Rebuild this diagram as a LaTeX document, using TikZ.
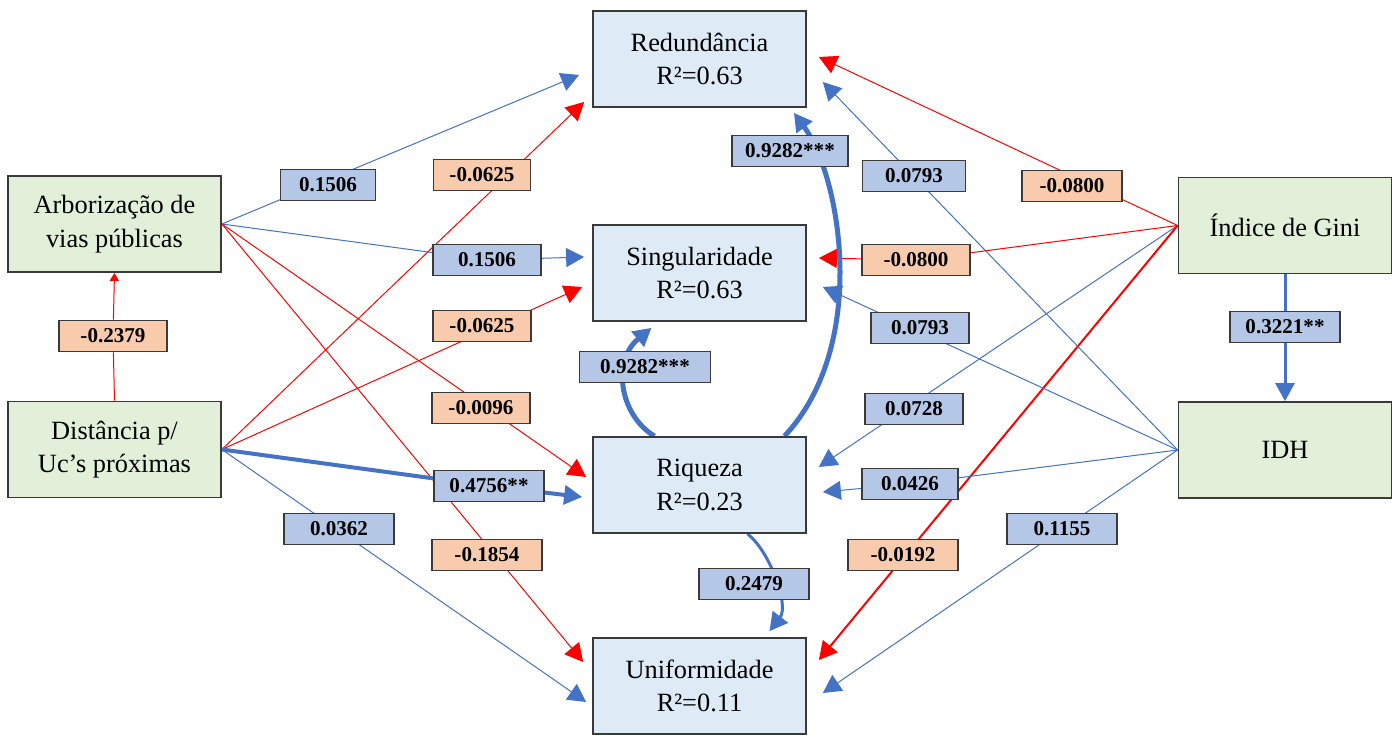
\documentclass[tikz,border=0pt]{standalone}
\usepackage{fontspec}
\setmainfont{Liberation Serif}
\usepackage{tikz}
\usetikzlibrary{arrows.meta,calc}
\definecolor{depfill}{HTML}{DEEBF7}
\definecolor{indepfill}{HTML}{E2F0D9}
\definecolor{posfill}{HTML}{B4C7E7}
\definecolor{negfill}{HTML}{F8CBAD}
\definecolor{lineblue}{HTML}{4472C4}
\definecolor{linered}{HTML}{FF0000}
\definecolor{boxline}{HTML}{3A3A3A}
\pgfdeclarelayer{bg}
\pgfsetlayers{bg,main}

\begin{document}
\begin{tikzpicture}[x=0.2mm,y=0.2mm,
  box/.style={draw=boxline,line width=0.35mm,minimum width=42.6mm,minimum height=19.2mm,
    align=center,font=\fontsize{15}{19}\selectfont},
  dep/.style={box,fill=depfill},
  indep/.style={box,fill=indepfill},
  coef/.style={draw=boxline,line width=0.35mm,minimum width=20mm,minimum height=6.2mm,
    inner sep=1pt,font=\fontsize{12}{14}\selectfont\bfseries},
  poscoef/.style={coef,fill=posfill},
  negcoef/.style={coef,fill=negfill},
  bluearr/.style={draw=lineblue,line width=0.2mm,-{Triangle[length=3.6mm,width=3.8mm]}},
  redarr/.style={draw=linered,line width=0.2mm,-{Triangle[length=3.6mm,width=3.8mm]}}
]
\useasboundingbox (0,0) rectangle (1400,736);
\node[dep] (red) at (699.5,677) {Redundância\\R²=0.63};
\node[dep] (sing) at (699.5,463) {Singularidade\\R²=0.63};
\node[dep] (riq) at (699.5,251) {Riqueza\\R²=0.23};
\node[dep] (unif) at (699.5,50) {Uniformidade\\R²=0.11};
\node[indep] (arb) at (114.5,512) {Arborização de\\vias públicas};
\node[indep] (dist) at (114.5,286.5) {Distância p/\\Uc’s próximas};
\node[indep] (gini) at (1285,510.5) {Índice de Gini};
\node[indep] (idh) at (1285,286) {IDH};

\node[poscoef,minimum width=19mm] (lA1) at (328,551) {0.1506};
\node[negcoef,minimum width=19.4mm] (lD1) at (482,561) {-0.0625};
\node[poscoef,minimum width=21.6mm] (lA2) at (487,476) {0.1506};
\node[negcoef,minimum width=19.6mm] (lD2) at (482,410) {-0.0625};
\node[negcoef,minimum width=21.6mm] (lDA) at (113,400) {-0.2379};
\node[negcoef,minimum width=19.6mm] (lA3) at (481,328) {-0.0096};
\node[poscoef,minimum width=22mm] (lD3) at (489,250) {0.4756**};
\node[negcoef,minimum width=22mm] (lA4) at (487,181) {-0.1854};
\node[poscoef,minimum width=22mm] (lD4) at (339,207) {0.0362};
\node[poscoef,minimum width=26.2mm] (lRS) at (645,369) {0.9282***};
\node[poscoef,minimum width=22mm] (lRU) at (754,152) {0.2479};
\node[poscoef,minimum width=23.2mm] (lRR) at (790,585) {0.9282***};
\node[poscoef,minimum width=20.6mm] (lI1) at (914,560) {0.0793};
\node[negcoef,minimum width=20mm] (lG1) at (1072,550) {-0.0800};
\node[negcoef,minimum width=21.6mm] (lG2) at (916,476) {-0.0800};
\node[poscoef,minimum width=19.6mm] (lI2) at (920,408) {0.0793};
\node[poscoef,minimum width=19.6mm] (lG3) at (914,327) {0.0728};
\node[poscoef,minimum width=19.2mm] (lI3) at (910,252) {0.0426};
\node[negcoef,minimum width=22mm] (lG4) at (903,181) {-0.0192};
\node[poscoef,minimum width=22mm] (lI4) at (1062,207) {0.1155};
\node[poscoef,minimum width=22mm] (lGI) at (1285,409) {0.3221**};

\begin{pgfonlayer}{bg}
% Arborizacao
\draw[bluearr] (arb.east) -- ($(red.west)+(-13,-16)$);
\draw[bluearr] (arb.east) -- (lA2.center) -- ($(sing.west)+(-8,16)$);
\draw[redarr] (arb.east) -- ($(riq.west)+(-6,8)$);
\draw[redarr] (arb.east) -- ($(unif.west)+(-9,24)$);
% Distancia
\draw[redarr] (dist.east) -- ($(red.west)+(-8,-43)$);
\draw[redarr] (dist.east) -- ($(sing.west)+(-10,-14)$);
\draw[bluearr,line width=0.8mm] (dist.east) -- (lD3.center) -- ($(riq.west)+(-10,-12)$);
\draw[bluearr] (dist.east) -- ($(unif.west)+(-6,-16)$);
\draw[draw=linered,line width=0.2mm,-{Triangle[length=1.6mm,width=1.8mm]}] (dist.north) -- (lDA) -- (arb.south);
% Gini
\draw[redarr] (gini.west) -- ($(red.east)+(12,2)$);
\draw[redarr] (gini.west) -- (lG2.center) -- ($(sing.east)+(12,15)$);
\draw[bluearr] (gini.west) -- ($(riq.east)+(12,18)$);
\draw[redarr,line width=0.4mm] (gini.west) -- ($(unif.east)+(12,26)$);
\draw[bluearr,line width=0.6mm] (gini.south) -- (lGI) -- (idh.north);
% IDH
\draw[bluearr] (idh.west) -- ($(red.east)+(16,-23)$);
\draw[bluearr] (idh.west) -- ($(sing.east)+(16,-14)$);
\draw[bluearr] (idh.west) -- (lI3.center) -- ($(riq.east)+(16,-7)$);
\draw[bluearr] (idh.west) -- ($(unif.east)+(16,-7)$);
% Riqueza
\draw[bluearr,line width=1mm] ($(riq.north)+(85,0)$) .. controls +(85,91) and +(47,-64) .. ($(red.south east)+(-13,-5)$);
\draw[bluearr,line width=1mm] ($(riq.north)+(-45,0)$) .. controls +(-35,21) and +(-40,-33) .. ($(sing.south)+(-48,-6)$);
\draw[bluearr,line width=0.6mm] ($(riq.south)+(48,0)$) .. controls +(22,-17) and +(20,26) .. ($(unif.north)+(70,6)$);
\end{pgfonlayer}
\end{tikzpicture}
\end{document}
